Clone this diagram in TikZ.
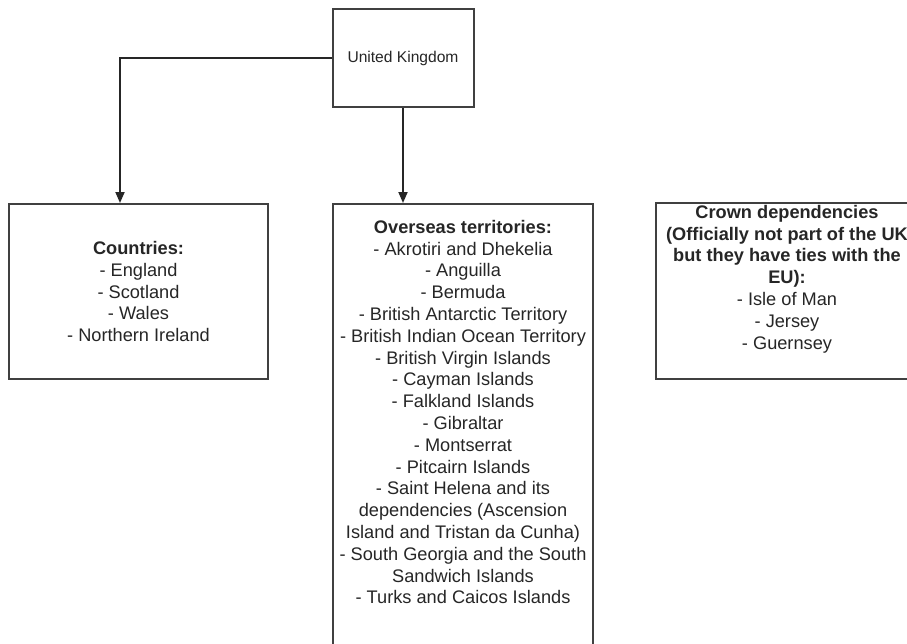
\documentclass[tikz,border=0pt]{standalone}
\usepackage{fontspec}
\setmainfont{Liberation Sans}
\usetikzlibrary{positioning,arrows.meta}
\tikzset{
	box/.style={draw=black!75, line width=2pt, inner sep=0pt, text=black!85, align=center, font=\fontsize{18.2}{21.8}\selectfont},
	listtext/.style={inner sep=0pt, text=black!85, align=center, font=\fontsize{18.2}{21.8}\selectfont},
	link/.style={draw=black!85, line width=1.8pt, -{Triangle[length=11pt,width=9pt]}}
}

\begin{document}
\begin{tikzpicture}[x=1pt, y=-1pt]
			%%%%% START %%%%%
			
			\useasboundingbox (0, 0) rectangle (907, 643);
			\clip (0, 0) rectangle (907, 643);
			\fill[white] (0, 0) rectangle (907, 643);
			
			\node[box, minimum width=141pt, minimum height=98pt, font=\fontsize{15.6}{18}\selectfont] (uk) at (403, 58) {United Kingdom};
			
			\node[box, minimum width=259pt, minimum height=175pt] (ctry) at (138.5, 291.5) {\textbf{Countries:}\\- England\\- Scotland\\- Wales\\- Northern Ireland};
			
			\node[box, minimum width=260pt, minimum height=496pt] (ots) at (463, 452) {};
			\node[listtext, below=17pt of ots.north] (otslist) {\textbf{Overseas territories:}\\- Akrotiri and Dhekelia\\- Anguilla\\- Bermuda\\- British Antarctic Territory\\- British Indian Ocean Territory\\- British Virgin Islands\\- Cayman Islands\\- Falkland Islands\\- Gibraltar\\- Montserrat\\- Pitcairn Islands\\- Saint Helena and its\\dependencies (Ascension\\Island and Tristan da Cunha)\\- South Georgia and the South\\Sandwich Islands\\- Turks and Caicos Islands};
			
			\node[box, minimum width=262pt, minimum height=176pt] (crown) at (787, 291) {};
			\node[listtext, below=3pt of crown.north] (crownlist) {\textbf{Crown dependencies}\\\textbf{(Officially not part of the UK}\\\textbf{but they have ties with the}\\\textbf{EU):}\\- Isle of Man\\- Jersey\\- Guernsey};
			
			\coordinate[right=112pt of ctry.north west] (ctryin);
			
			\draw[link] (uk.west) -| (ctryin);
			\draw[link] (uk.south) -- (uk.south |- ots.north);
			
			%%%%% END %%%%%
\end{tikzpicture}
\end{document}
